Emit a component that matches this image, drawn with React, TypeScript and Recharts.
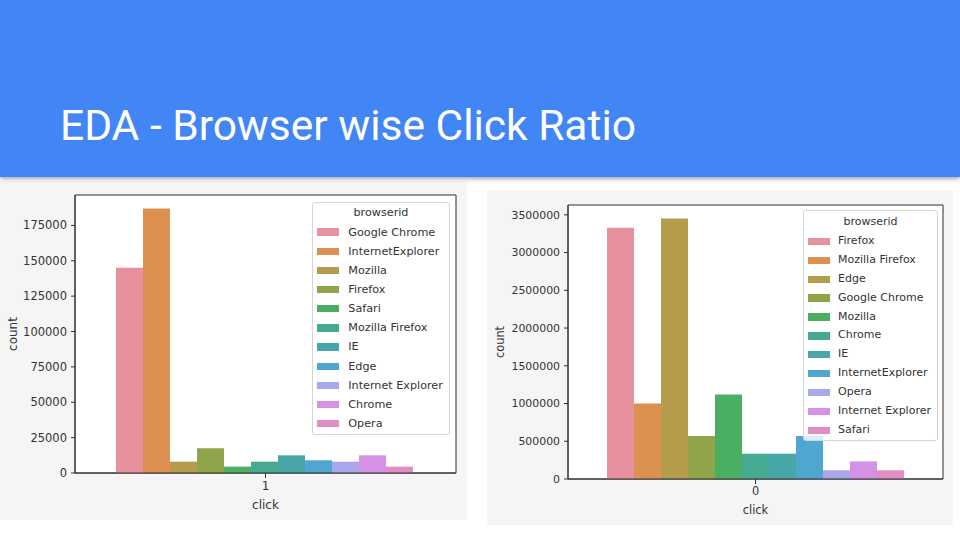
import React from 'react';
import { BarChart, Bar, XAxis, YAxis, CartesianGrid, Legend } from 'recharts';

const titleText = 'EDA - Browser wise Click Ratio';

// Left chart: click = 1
const leftCategory = '1';
const leftBrowsers = [
  'Google Chrome', 'InternetExplorer', 'Mozilla', 'Firefox', 'Safari',
  'Mozilla Firefox', 'IE', 'Edge', 'Internet Explorer', 'Chrome', 'Opera',
];
const leftCounts = [145000, 187000, 8000, 17500, 4500, 8000, 12500, 9000, 8000, 12500, 4500];
const leftTicks = [0, 25000, 50000, 75000, 100000, 125000, 150000, 175000];

// Right chart: click = 0
const rightCategory = '0';
const rightBrowsers = [
  'Firefox', 'Mozilla Firefox', 'Edge', 'Google Chrome', 'Mozilla',
  'Chrome', 'IE', 'InternetExplorer', 'Opera', 'Internet Explorer', 'Safari',
];
const rightCounts = [3330000, 1000000, 3450000, 570000, 1120000, 335000, 335000, 570000, 115000, 233000, 115000];
const rightTicks = [0, 500000, 1000000, 1500000, 2000000, 2500000, 3000000, 3500000];

// seaborn husl palette (desaturated) in hue order
const palette = [
  '#e8919e', '#dd9150', '#b59b4c', '#90a44a', '#4aae63', '#46a992',
  '#47a7a8', '#4fa6d0', '#a9a7ec', '#d491e6', '#e38dc5',
];

const AXIS = '#2e2e2e';
const TEXT = '#333333';
const FONT = '"DejaVu Sans", sans-serif';

type PanelProps = {
  category: string;
  browsers: string[];
  counts: number[];
  ticks: number[];
  yMax: number;
  width: number;
  height: number;
  marginTop: number;
  marginRight: number;
  yWidth: number;
  xHeight: number;
  catGap: number;
  tickFont: number;
  legendFont: number;
  legendLeft: number;
  legendTop: number;
  legendWidth: number;
  legendHeight: number;
  legendTitleH: number;
  legendRowH: number;
  swatchLeft: number;
  swatchW: number;
  textLeft: number;
};

function makeLegend(p: PanelProps) {
  return () => (
    <div
      style={{
        boxSizing: 'border-box',
        width: p.legendWidth,
        height: p.legendHeight,
        background: 'rgba(255,255,255,0.8)',
        border: '1px solid #d4d4d4',
        borderRadius: 3,
        fontFamily: FONT,
        fontSize: p.legendFont,
        color: TEXT,
        position: 'relative',
      }}
    >
      <div style={{ height: p.legendTitleH, lineHeight: p.legendTitleH + 'px', textAlign: 'center' }}>browserid</div>
      {p.browsers.map((b, i) => (
        <div key={b} style={{ position: 'relative', height: p.legendRowH, lineHeight: p.legendRowH + 'px', whiteSpace: 'nowrap' }}>
          <span
            style={{
              position: 'absolute',
              left: p.swatchLeft - 1,
              top: (p.legendRowH - 7.3) / 2,
              width: p.swatchW,
              height: 7.3,
              background: palette[i],
            }}
          />
          <span style={{ position: 'absolute', left: p.textLeft - 1 }}>{b}</span>
        </div>
      ))}
    </div>
  );
}

// frame lines at the edges of the plotting area, taken from the chart's own offset
const frameRows = (args: any) => [args.offset.top, args.offset.top + args.offset.height];
const frameCols = (args: any) => [args.offset.left, args.offset.left + args.offset.width];

function Panel(p: PanelProps) {
  const row: Record<string, string | number> = { click: p.category };
  p.browsers.forEach((b, i) => {
    row[b] = p.counts[i];
  });
  const data = [row];
  return (
    <BarChart
      width={p.width}
      height={p.height}
      data={data}
      margin={{ top: p.marginTop, right: p.marginRight, bottom: 0, left: 0 }}
      barCategoryGap={p.catGap}
      barGap={0}
    >
      <CartesianGrid
        fill="#ffffff"
        stroke={AXIS}
        strokeWidth={1}
        horizontalCoordinatesGenerator={frameRows}
        verticalCoordinatesGenerator={frameCols}
      />
      <XAxis
        dataKey="click"
        height={p.xHeight}
        tickSize={5}
        tickMargin={3}
        stroke={AXIS}
        tick={{ fill: TEXT, fontSize: p.tickFont + 0.5, fontFamily: FONT }}
        tickLine={{ stroke: AXIS }}
        axisLine={{ stroke: AXIS }}
        label={{ value: 'click', position: 'insideBottom', offset: 11, fill: TEXT, fontSize: p.tickFont + 0.5, fontFamily: FONT }}
      />
      <YAxis
        width={p.yWidth}
        domain={[0, p.yMax]}
        ticks={p.ticks}
        allowDataOverflow
        tickSize={4}
        tickMargin={4}
        tick={{ fill: TEXT, fontSize: p.tickFont, fontFamily: FONT }}
        tickLine={{ stroke: AXIS }}
        axisLine={{ stroke: AXIS }}
        label={{
          value: 'count',
          angle: -90,
          position: 'insideLeft',
          offset: 13,
          style: { textAnchor: 'middle' },
          fill: TEXT,
          fontSize: p.tickFont + 0.5,
          fontFamily: FONT,
        }}
      />
      {p.browsers.map((b, i) => (
        <Bar key={b} dataKey={b} name={b} fill={palette[i]} isAnimationActive={false} />
      ))}
      <Legend
        layout="vertical"
        align="center"
        verticalAlign="middle"
        content={makeLegend(p)}
        wrapperStyle={{ left: p.legendLeft, top: p.legendTop, width: p.legendWidth, height: p.legendHeight }}
      />
    </BarChart>
  );
}

export default function App() {
  return (
    <div
      style={{
        position: 'absolute',
        left: 0,
        top: 0,
        width: 960,
        height: 540,
        background: '#ffffff',
        overflow: 'hidden',
      }}
    >
      <div
        style={{
          position: 'absolute',
          left: 0,
          top: 0,
          width: 960,
          height: 177,
          background: '#4285f4',
          boxShadow: '0 2px 4px rgba(0,0,0,0.35)',
          zIndex: 2,
        }}
      >
        <div
          style={{
            position: 'absolute',
            left: 60,
            top: 104.5,
            fontFamily: 'Roboto, sans-serif',
            fontSize: 42.5,
            lineHeight: '42.5px',
            color: '#ffffff',
            whiteSpace: 'nowrap',
          }}
        >
          {titleText}
        </div>
      </div>

      <div style={{ position: 'absolute', left: 0, top: 181, width: 467, height: 339, background: '#f5f5f5' }}>
        <Panel
          category={leftCategory}
          browsers={leftBrowsers}
          counts={leftCounts}
          ticks={leftTicks}
          yMax={196500}
          width={467}
          height={339}
          marginTop={14}
          marginRight={11}
          yWidth={75}
          xHeight={47}
          catGap={41}
          tickFont={11.5}
          legendFont={11.2}
          legendLeft={312}
          legendTop={21}
          legendWidth={138}
          legendHeight={233}
          legendTitleH={19.5}
          legendRowH={19.17}
          swatchLeft={4.7}
          swatchW={22.6}
          textLeft={36.3}
        />
      </div>

      <div style={{ position: 'absolute', left: 487, top: 190, width: 466, height: 335, background: '#f5f5f5' }}>
        <Panel
          category={rightCategory}
          browsers={rightBrowsers}
          counts={rightCounts}
          ticks={rightTicks}
          yMax={3630000}
          width={466}
          height={335}
          marginTop={15}
          marginRight={10}
          yWidth={81}
          xHeight={46}
          catGap={39}
          tickFont={10.9}
          legendFont={11}
          legendLeft={316}
          legendTop={20}
          legendWidth={135}
          legendHeight={231}
          legendTitleH={21}
          legendRowH={18.9}
          swatchLeft={5}
          swatchW={21.7}
          textLeft={35}
        />
      </div>
    </div>
  );
}
